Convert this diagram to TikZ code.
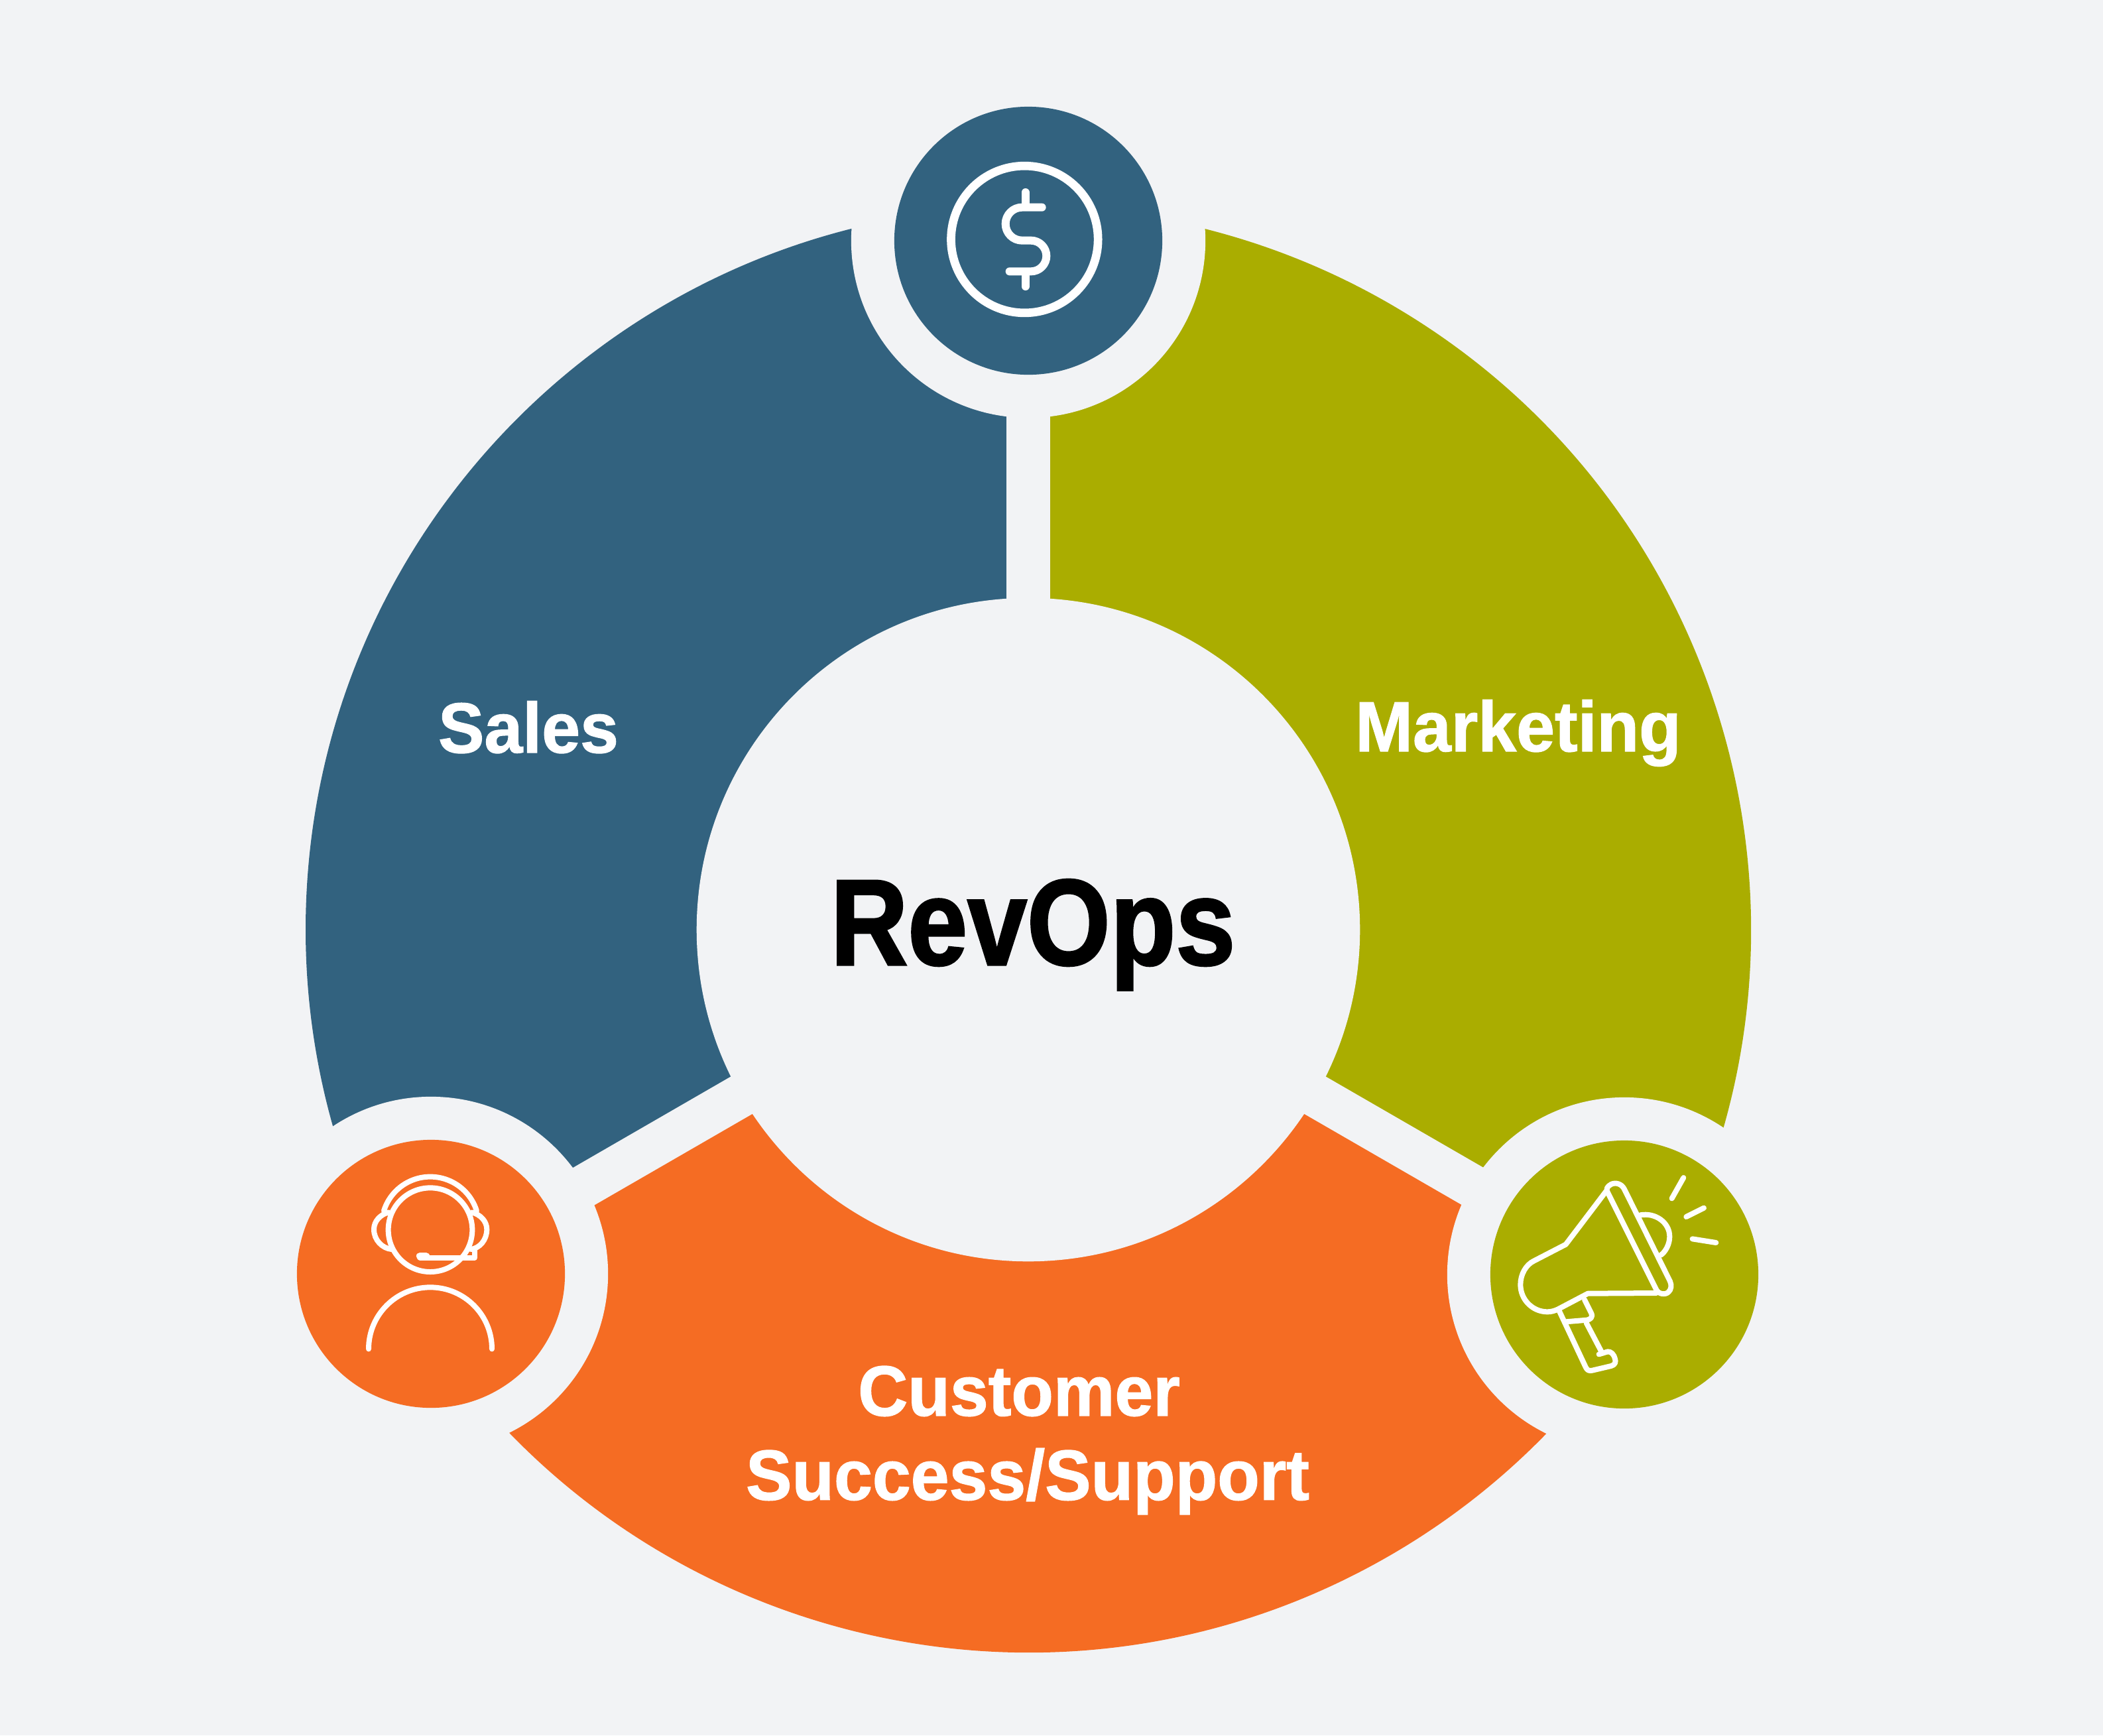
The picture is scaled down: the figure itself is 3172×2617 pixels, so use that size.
\documentclass[tikz,border=0pt]{standalone}
\usepackage{fontspec}
\setmainfont[FakeStretch=0.97,FakeBold=1.2]{Liberation Sans Bold}
\newfontfamily\titlefont[FakeStretch=0.875,FakeBold=1.6]{Liberation Sans Bold}
\definecolor{pagebg}{HTML}{F2F3F5}
\definecolor{salesblue}{HTML}{32627F}
\definecolor{mktolive}{HTML}{AAAD00}
\definecolor{cssorange}{HTML}{F56C23}
\tikzset{
  cutout/.style={circle,fill=pagebg,minimum size=5.34cm,inner sep=0pt},
  badge/.style={circle,minimum size=4.04cm,inner sep=0pt},
  gapline/.style={pagebg,line width=0.65cm},
  iconline/.style={white,line width=0.08cm,line cap=round,line join=round},
  labeltext/.style={white,font=\fontsize{30.5}{36.1}\selectfont},
}
\begin{document}
\begin{tikzpicture}[x=0.01cm,y=-0.01cm]
    \fill[pagebg] (0,0) rectangle (3172,2617);
    \useasboundingbox (0,0) rectangle (3172,2617);
    \coordinate (hubc) at (1551,1402);

    \fill[salesblue] (hubc) -- ++(270:1090) arc (270:150:1090) -- cycle;
    \fill[cssorange] (hubc) -- ++(150:1090) arc (150:30:1090) -- cycle;
    \fill[mktolive] (hubc) -- ++(30:1090) arc (30:-90:1090) -- cycle;
    \draw[gapline] (hubc) -- ++(270:1100);
    \draw[gapline] (hubc) -- ++(150:1100);
    \draw[gapline] (hubc) -- ++(30:1100);

    \node[cutout] (cuttop) at (1551,363) {};
    \node[cutout] (cutleft) at (650,1921) {};
    \node[cutout] (cutright) at (2450,1922) {};
    \node[circle,fill=pagebg,minimum size=10cm,inner sep=0pt] (hub) at (hubc) {};
    \node[badge,fill=salesblue] (badgetop) at (cuttop) {};
    \node[badge,fill=cssorange] (badgeleft) at (cutleft) {};
    \node[badge,fill=mktolive] (badgeright) at (cutright) {};

    \node[anchor=base,font=\fontsize{52.5}{60}\selectfont\titlefont] (revops) at (1558,1455) {RevOps};
    \node[labeltext,anchor=base] (sales) at (797,1135) {Sales};
    \node[labeltext,anchor=base] (marketing) at (2290,1133) {Marketing};
    \node[labeltext,align=center] (customer) at (1550,2172) {Customer\hspace*{.26cm}\\Success/Support};

    % dollar
    \begin{scope}[shift={(1300,130)},scale=1/3]
        \draw[iconline,line width=0.127cm] (736,693) circle (332.5);
        \draw[iconline,line width=0.12cm] (815,548) -- (725,548) arc (270:90:75) -- (765,698) arc (270:450:70) -- (668,838);
        \draw[iconline,line width=0.12cm] (740,480) -- (740,540);
        \draw[iconline,line width=0.12cm] (740,850) -- (740,906);
    \end{scope}

    % megaphone
    \begin{scope}[shift={(2220,1700)},scale=1/3]
        \draw[iconline] (607,290) -- (425,530) -- (280,605) .. controls (245,622) and (220,665) .. (220,712)
            .. controls (220,780) and (275,835) .. (342,835) .. controls (360,835) and (375,830) .. (390,823)
            -- (525,752) -- (835,750);
        \draw[iconline] (615,295) -- (835,735) .. controls (845,755) and (875,760) .. (890,745)
            .. controls (902,735) and (905,715) .. (897,697) -- (690,280)
            .. controls (678,255) and (650,248) .. (630,258) .. controls (612,268) and (605,280) .. (615,295) -- cycle;
        \draw[iconline] (762,397) .. controls (830,385) and (895,430) .. (895,495) .. controls (895,530) and (875,565) .. (855,578);
        \draw[iconline] (905,322) -- (958,228);
        \draw[iconline] (970,405) -- (1050,365);
        \draw[iconline] (998,505) -- (1105,522);
        \draw[iconline] (395,830) -- (515,1085) .. controls (522,1100) and (530,1103) .. (545,1100) -- (630,1080)
            .. controls (650,1075) and (652,1060) .. (648,1048) .. controls (642,1025) and (630,1015) .. (615,1015) -- (575,1027);
        \draw[iconline] (590,1022) -- (518,885);
        \draw[iconline] (510,780) -- (540,840) .. controls (550,860) and (535,870) .. (520,872) -- (425,880);
    \end{scope}

    % agent
    \begin{scope}[shift={(430,1700)},scale=1/3]
        \draw[iconline] (657,464) circle (190);
        \draw[iconline] (447,378) arc (197.4:342.6:220);
        \draw[iconline] (468,385) .. controls (430,395) and (402,425) .. (402,462) .. controls (402,510) and (440,548) .. (482,552);
        \draw[iconline] (846,385) .. controls (884,395) and (913,425) .. (913,462) .. controls (913,510) and (880,548) .. (840,552);
        \draw[iconline] (610,590) -- (857,590) -- (857,555);
        \draw[iconline,line width=0.11cm] (610,583) -- (638,583);
        \draw[iconline] (378,1003) arc (180:360:279);
    \end{scope}
\end{tikzpicture}
\end{document}
